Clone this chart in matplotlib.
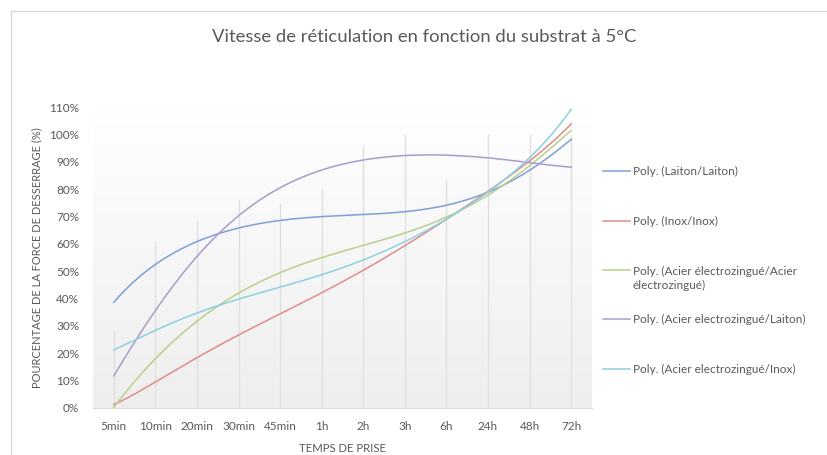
import matplotlib
matplotlib.use("Agg")
import matplotlib.pyplot as plt
import numpy as np

# categories and values (trend lines read at each category, in %)
categories = ["5min", "10min", "20min", "30min", "45min", "1h", "2h", "3h", "6h", "24h", "48h", "72h"]
laiton_laiton = [38.6, 52.6, 60.6, 65.8, 68.7, 70.0, 70.4, 71.8, 74.4, 78.6, 87.0, 98.2]
inox_inox = [1.2, 9.6, 18.2, 26.7, 34.6, 42.1, 50.0, 59.5, 69.3, 78.8, 90.5, 103.8]
acier_acier = [0.2, 18.2, 31.5, 41.8, 49.8, 54.9, 59.3, 63.8, 70.0, 77.8, 88.5, 101.5]
acier_laiton = [11.7, 35.8, 55.0, 70.5, 80.7, 86.6, 90.6, 92.5, 92.4, 91.2, 89.8, 88.0]
acier_inox = [21.2, 28.5, 34.6, 39.7, 44.3, 48.8, 54.0, 60.6, 69.3, 78.8, 91.5, 109.2]
# heights of the faint vertical drop lines
drop_max = [28.5, 61, 68.5, 76, 75, 80, 96, 100, 83.5, 100, 100, 100]

series = [
    ("Poly. (Laiton/Laiton)", laiton_laiton, "#7d9fd6"),
    ("Poly. (Inox/Inox)", inox_inox, "#e08c8a"),
    ("Poly. (Acier électrozingué/Acier\nélectrozingué)", acier_acier, "#b9d08a"),
    ("Poly. (Acier electrozingué/Laiton)", acier_laiton, "#ab9bcc"),
    ("Poly. (Acier electrozingué/Inox)", acier_inox, "#8dd0e0"),
]

grey = "#595959"
plt.rcParams["font.family"] = ["Lato", "DejaVu Sans"]

fig = plt.figure(figsize=(8.28, 4.55), dpi=100)
ax = fig.add_axes([93 / 828, 1 - 408 / 455, (592 - 93) / 828, (408 - 107) / 455])

x = np.arange(len(categories))
ax.set_xlim(-0.5, len(categories) - 0.5)
ax.set_ylim(0, 110)

# plot area gradient: white at top, light grey at bottom
grad = np.linspace(0, 1, 256).reshape(-1, 1)
cmap = matplotlib.colors.LinearSegmentedColormap.from_list("g", ["#eeeeee", "#ffffff"])
ax.imshow(grad, extent=(-0.5, len(categories) - 0.5, 0, 110), origin="lower",
          aspect="auto", cmap=cmap, zorder=0)

ax.vlines(x, 0, drop_max, color="#e0e0e0", lw=1, zorder=1)

xs = np.linspace(0, len(categories) - 1, 300)
for label, vals, col in series:
    coef = np.polyfit(x, vals, 6)
    ax.plot(xs, np.polyval(coef, xs), color=col, lw=1.1, zorder=2)

for s in ["top", "right", "left"]:
    ax.spines[s].set_visible(False)
ax.spines["bottom"].set_color("#d9d9d9")

ax.set_xticks(x)
ax.set_xticklabels(categories)
ax.set_yticks(np.arange(0, 111, 10))
ax.set_yticklabels([f"{v}%" for v in range(0, 111, 10)])
ax.tick_params(length=0, colors=grey, labelsize=8.5)
ax.tick_params(axis="x", pad=9)
ax.tick_params(axis="y", pad=10)

ax.set_xlabel("TEMPS DE PRISE", color=grey, fontsize=8.2, labelpad=8)
ax.set_ylabel("POURCENTAGE DE LA FORCE DE DESSERRAGE (%)", color=grey, fontsize=8, labelpad=5)
fig.text(424 / 828, 1 - 37 / 455, "Vitesse de réticulation en fonction du substrat à 5°C",
         ha="center", va="center", color=grey, fontsize=13.3)

# legend drawn at the right
leg_y = [171, 221, 270, 319, 369]
for (label, vals, col), ly in zip(series, leg_y):
    fy = 1 - ly / 455
    fig.add_artist(plt.Line2D([603 / 828, 630 / 828], [fy, fy], color=col, lw=1.1,
                              transform=fig.transFigure))
    ty = fy - (8.5 / 455 if "\n" in label else 0)
    fig.text(633 / 828, ty, label, ha="left", va="center", color=grey, fontsize=8.5,
             linespacing=1.3)

# chart border (top and left visible)
fig.add_artist(plt.Line2D([11 / 828, 1], [1 - 11 / 455, 1 - 11 / 455], color="#d9d9d9", lw=1,
                          transform=fig.transFigure))
fig.add_artist(plt.Line2D([11 / 828, 11 / 828], [0, 1 - 11 / 455], color="#d9d9d9", lw=1,
                          transform=fig.transFigure))

fig.savefig("out.png", dpi=100, facecolor="white")
